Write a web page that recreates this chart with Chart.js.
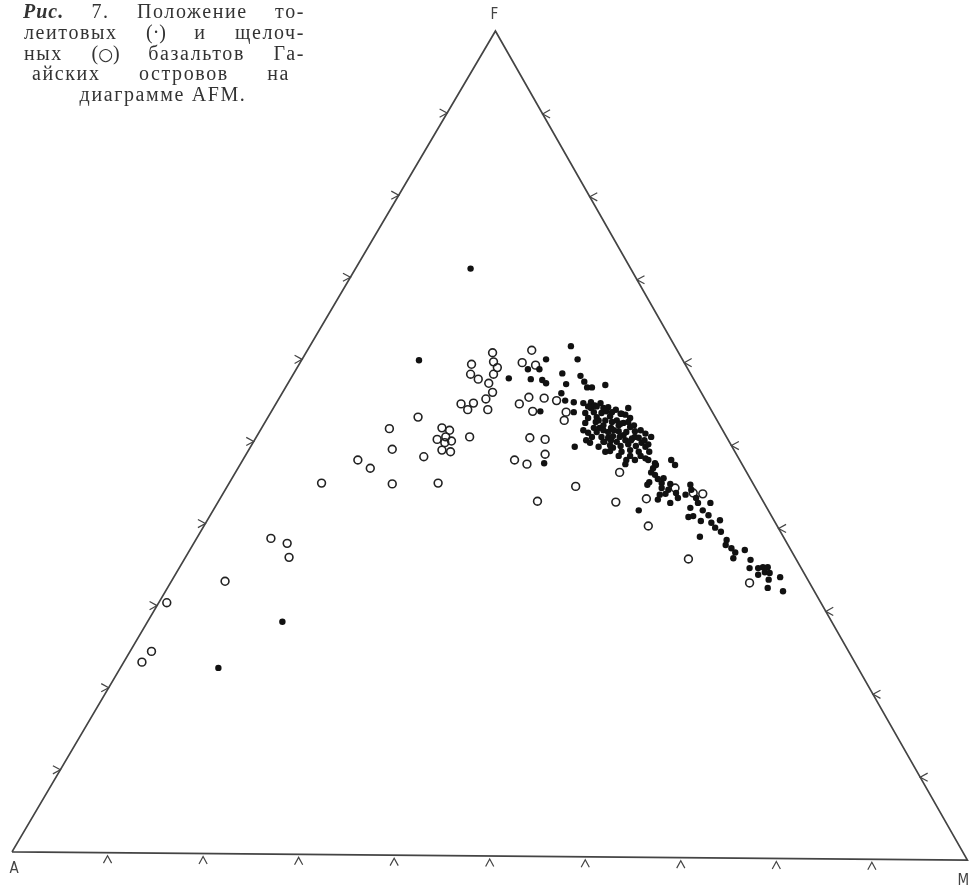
<!DOCTYPE html>
<html lang="ru">
<head>
<meta charset="utf-8">
<title>Рис. 7. Диаграмма AFM</title>
<script src="https://cdn.jsdelivr.net/npm/chart.js@4.4.1/dist/chart.umd.min.js"></script>
<style>
    html, body { margin: 0; padding: 0; background: #fff; }
    #wrap { position: relative; width: 973px; height: 890px; }
    #caption {
        position: absolute; left: 0; top: 0;
        font-family: 'Liberation Serif', 'DejaVu Serif', serif;
        font-size: 20px; line-height: 21px; color: #333;
    }
    #caption div { position: absolute; text-align: justify; text-align-last: justify; letter-spacing: 1.6px; }
    #caption .l1 { left: 23px; top: 1px; width: 282px; }
    #caption .l2 { left: 24px; top: 22px; width: 281px; }
    #caption .l3 { left: 24px; top: 43px; width: 281px; }
    #caption .l4 { left: 32px; top: 63px; width: 258px; }
    #caption .l5 { left: 58px; top: 84px; width: 210px; text-align: center; text-align-last: center; }
    #caption i { font-weight: bold; letter-spacing: 1px; }
    #caption .sym { display: inline-block; letter-spacing: 0; }
    #caption .ring { font-family: 'DejaVu Sans', sans-serif; font-size: 17px; }
</style>
</head>
<body>
<div id="wrap">
    <canvas id="afmChart"></canvas>
    <div id="caption">
        <div class="l1"><i>Рис.</i> 7. Положение то-</div>
        <div class="l2">леитовых <span class="sym">(·)</span> и щелоч-</div>
        <div class="l3">ных <span class="sym">(<span class="ring">○</span>)</span> базальтов Га-</div>
        <div class="l4">айских островов на</div>
        <div class="l5">диаграмме AFM.</div>
    </div>
</div>
<script>
// Diagram units: x = position along A–M side (0..100), y = height toward F (0..100)
const vertexLabels = ['A', 'F', 'M'];
const vertexX = [0, 50.6, 100];
const vertexY = [0.5, 100, -0.5];
const tickFractions = [0.1, 0.2, 0.3, 0.4, 0.5, 0.6, 0.7, 0.8, 0.9];

// tholeiitic basalts (•)
const tholeiites = [
    [48.0,71.2],[42.6,60.1],[28.3,28.4],[21.6,22.8],[58.5,61.8],[59.2,60.2],[55.9,60.2],[54.0,59.0],
    [55.2,59.0],[52.0,57.9],[54.3,57.8],[55.5,57.7],[55.9,57.3],[57.6,58.5],[59.5,58.2],[58.0,57.2],
    [59.9,57.5],[60.2,56.8],[60.7,56.8],[62.1,57.1],[57.5,56.1],[55.3,53.9],[55.7,47.6],[58.9,49.6],
    [58.8,55.0],[58.8,53.8],[57.9,55.2],
    [59.8,54.9],[60.6,55.0],[61.6,54.9],[62.4,54.4],[63.2,54.1],[64.2,53.5],[64.5,54.3],[64.7,53.1],
    [60.0,53.7],[60.9,53.8],[61.7,53.7],[62.2,53.9],[62.6,53.3],[63.3,52.8],[64.0,52.5],[64.7,52.0],
    [60.0,52.5],[61.1,52.6],[61.5,51.9],[62.1,52.8],[62.7,51.9],[62.4,51.4],[63.5,51.5],[65.2,51.5],
    [65.8,51.6],[66.3,51.2],[66.9,50.8],[60.3,51.3],[61.2,51.4],[61.7,50.8],[62.4,50.7],[63.3,50.2],
    [64.2,50.4],[65.2,50.8],[65.9,50.1],[60.1,50.4],[60.5,50.1],[61.4,49.6],[62.1,49.0],[62.9,49.5],
    [63.8,49.0],[64.5,49.9],[64.7,49.2],[65.6,49.0],[66.3,49.6],[66.7,49.0],[64.3,48.0],[65.2,48.0],
    [66.3,48.2],[67.3,47.6],[64.7,48.5],[64.2,47.5],[69.0,48.0],[69.4,47.4],[60.6,54.3],[63.5,52.2],
    [61.9,52.2],[61.2,53.2],[64.0,51.0],[65.6,50.7],[62.9,50.9],[59.8,51.6],[66.2,50.4],[66.6,49.9],
    [63.7,49.7],[62.6,49.8],[61.0,54.6],[63.8,53.6],[62.0,50.2],[64.9,50.6],
    [60.3,54.5],[61.2,54.5],[61.9,54.3],[62.8,53.8],[63.7,53.6],[60.3,53.1],[61.4,52.8],[62.8,52.6],
    [63.7,52.4],[64.5,52.6],[60.9,51.9],[61.9,51.6],[63.0,51.6],[64.3,51.4],[60.7,50.8],[61.9,50.2],
    [62.7,50.4],[63.6,50.8],[64.8,50.4],[65.3,49.7],[62.6,49.1],[63.5,48.5],[65.8,48.5],[66.6,48.0],
    [65.1,52.2],
    [67.4,47.4],[66.9,46.5],[67.3,46.2],[67.6,45.7],[66.7,45.3],[66.5,45.0],[68.0,45.2],[68.9,45.1],
    [68.0,44.6],[68.7,44.4],[69.5,44.0],[67.8,43.8],[68.4,43.9],[67.6,43.2],[68.9,42.8],[70.5,43.8],
    [71.0,45.0],[71.1,44.4],[71.6,43.4],[71.8,42.8],[73.1,42.8],[71.0,42.2],[70.8,41.1],[71.3,41.2],
    [72.1,40.6],[72.9,41.3],[73.2,40.4],[73.6,39.8],[74.1,40.7],[74.2,39.3],[72.0,38.7],[74.8,38.3],
    [75.3,37.3],[75.7,36.8],[75.5,36.1],[76.7,37.1],[77.3,35.9],[77.2,34.9],[78.1,34.9],[78.6,35.0],
    [79.1,35.0],[78.8,34.4],[79.3,34.3],[80.4,33.8],[79.2,33.5],[79.1,32.5],[80.7,32.1],[65.6,41.9],
    [67.1,47.0],[68.2,45.8],[69.7,43.4],[72.3,41.9],[74.7,37.7],[78.1,34.1]
];

// alkali basalts (○)
const alkaliBasalts = [
    [27.1,38.5],[28.8,37.9],[29.0,36.2],[22.3,33.3],[16.2,30.7],[14.6,24.8],[13.6,23.5],
    [50.3,61.0],[48.1,59.6],[50.4,59.9],[50.8,59.2],[48.0,58.4],[48.8,57.8],[50.4,58.4],[49.9,57.3],
    [50.3,56.2],[49.6,55.4],[47.0,54.8],[48.3,54.9],[47.7,54.1],[49.8,54.1],
    [54.4,61.3],[53.4,59.8],[54.8,59.5],[54.1,55.6],[55.7,55.5],[53.1,54.8],[54.5,53.9],
    [57.0,55.2],[58.0,53.8],[57.8,52.8],
    [42.5,53.2],[39.5,51.8],[45.0,51.9],[45.8,51.6],[44.5,50.5],[45.4,50.8],[46.0,50.3],[45.3,50.1],
    [45.0,49.2],[45.9,49.0],[47.9,50.8],[39.8,49.3],[36.2,48.0],[37.5,47.0],[43.1,48.4],[32.4,45.2],
    [39.8,45.1],[44.6,45.2],
    [54.2,50.7],[55.8,50.5],[55.8,48.7],[52.6,48.0],[53.9,47.5],[55.0,43.0],
    [59.0,44.8],[63.2,42.9],[63.6,46.5],[66.4,43.3],[66.6,40.0],[69.4,44.6],[71.3,44.0],[72.3,43.9],
    [70.8,36.0],[77.2,33.1]
];

const toXY = pts => pts.map(p => ({ x: p[0], y: p[1] }));
const vertexPoint = i => ({ x: vertexX[i], y: vertexY[i] });

// outline A -> M -> F -> A
const outline = [vertexPoint(0), vertexPoint(2), vertexPoint(1), vertexPoint(0)];

const lineColor = '#444';

// ticks (chevrons) on each side and the A, F, M labels
const afmDecor = {
    id: 'afmDecor',
    afterDatasetsDraw(chart) {
        const { ctx, scales: { x, y } } = chart;
        const pix = i => ({ x: x.getPixelForValue(vertexX[i]), y: y.getPixelForValue(vertexY[i]) });
        const A = pix(0), F = pix(1), M = pix(2);

        ctx.save();
        ctx.strokeStyle = lineColor;
        ctx.lineWidth = 1.2;

        function chevron(px, py, ang) {
            const len = 8.5, spread = 0.5;
            ctx.beginPath();
            ctx.moveTo(px + len * Math.cos(ang - spread), py + len * Math.sin(ang - spread));
            ctx.lineTo(px, py);
            ctx.lineTo(px + len * Math.cos(ang + spread), py + len * Math.sin(ang + spread));
            ctx.stroke();
        }

        tickFractions.forEach(t => {
            // left side A-F, arms open to the left
            chevron(A.x + (F.x - A.x) * t, A.y + (F.y - A.y) * t, Math.PI);
            // right side M-F, arms open to the right
            chevron(M.x + (F.x - M.x) * t, M.y + (F.y - M.y) * t, 0);
            // base A-M, arms hang below
            chevron(A.x + (M.x - A.x) * t, A.y + (M.y - A.y) * t + 3, Math.PI / 2);
        });

        ctx.fillStyle = '#444';
        ctx.font = '15px "DejaVu Sans Condensed", "Liberation Sans", sans-serif';
        ctx.textAlign = 'center';
        ctx.textBaseline = 'middle';
        ctx.fillText(vertexLabels[1], F.x - 1, F.y - 16);
        ctx.fillText(vertexLabels[0], A.x + 2, A.y + 17);
        ctx.fillText(vertexLabels[2], M.x - 4, M.y + 21);
        ctx.restore();
    }
};

const ctx = document.getElementById('afmChart').getContext('2d');
new Chart(ctx, {
    type: 'scatter',
    data: {
        datasets: [
            {
                label: 'AFM',
                data: outline,
                showLine: true,
                borderColor: lineColor,
                borderWidth: 1.7,
                pointRadius: 0,
                fill: false,
                clip: false
            },
            {
                label: 'толеитовые',
                data: toXY(tholeiites),
                pointRadius: 3.2,
                pointBackgroundColor: '#111',
                pointBorderWidth: 0,
                clip: false
            },
            {
                label: 'щелочные',
                data: toXY(alkaliBasalts),
                pointRadius: 3.9,
                pointBackgroundColor: 'rgba(255,255,255,0)',
                pointBorderColor: '#222',
                pointBorderWidth: 1.6,
                clip: false
            }
        ]
    },
    options: {
        responsive: true,
        maintainAspectRatio: false,
        animation: false,
        events: [],
        layout: { padding: { left: 12, right: 3, top: 31, bottom: 34 } },
        plugins: { legend: { display: false }, tooltip: { enabled: false } },
        scales: {
            x: { type: 'linear', min: 0, max: 100, display: false },
            y: { type: 'linear', min: 0, max: 100, display: false }
        }
    },
    plugins: [afmDecor]
});
</script>
</body>
</html>
